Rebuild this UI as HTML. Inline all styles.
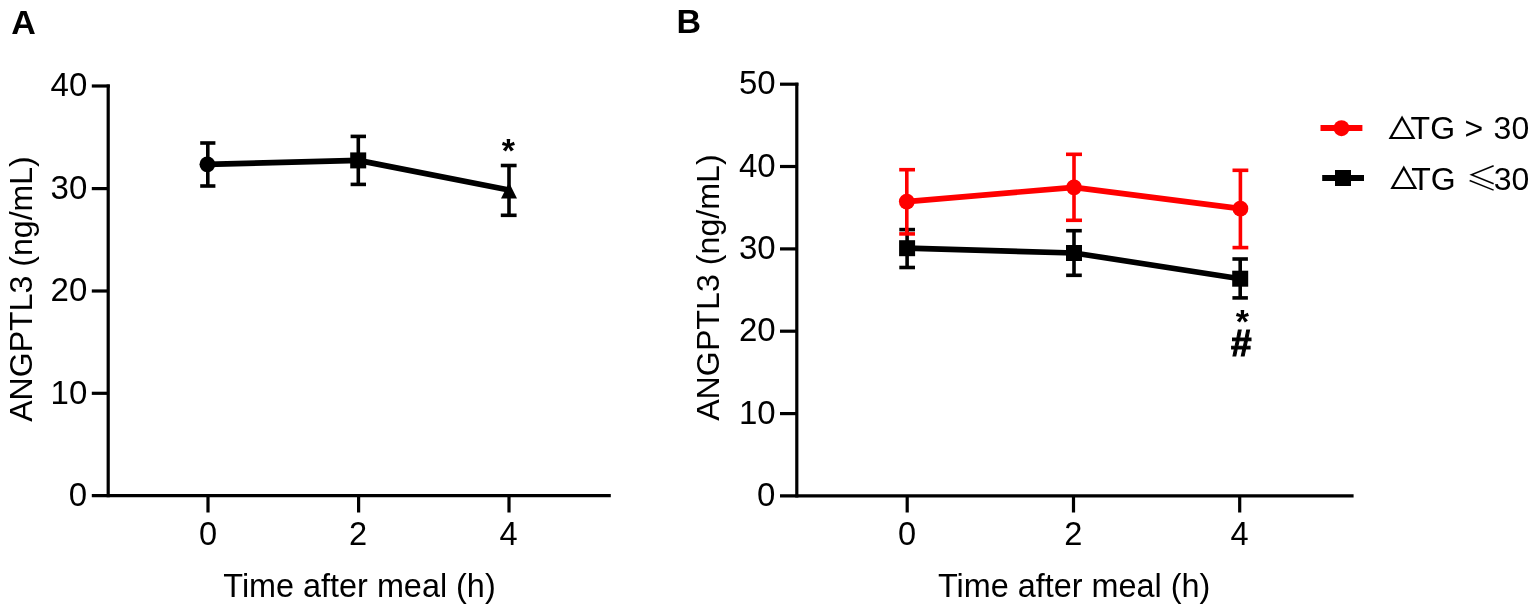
<!DOCTYPE html>
<html>
<head>
<meta charset="utf-8">
<title>ANGPTL3 after meal</title>
<style>
html,body{margin:0;padding:0;background:#fff;}
body{width:1535px;height:609px;overflow:hidden;}
svg{display:block;}
text{font-family:"Liberation Sans","Noto Sans CJK SC",sans-serif;fill:#000;}
</style>
</head>
<body>
<svg width="1535" height="609" viewBox="0 0 1535 609">
<rect x="0" y="0" width="1535" height="609" fill="#fff"/>

<!-- Panel labels -->
<text x="11.2" y="33.6" font-size="34" font-weight="bold">A</text>
<text x="676.6" y="33.4" font-size="34" font-weight="bold">B</text>

<!-- ================= PANEL A ================= -->
<g stroke="#000" stroke-width="3.2" fill="none" stroke-linecap="butt">
  <!-- y axis -->
  <line x1="108.2" y1="84.5" x2="108.2" y2="497.3"/>
  <!-- y ticks -->
  <line x1="91.8" y1="86" x2="109.8" y2="86"/>
  <line x1="91.8" y1="188.6" x2="108.2" y2="188.6"/>
  <line x1="91.8" y1="291" x2="108.2" y2="291"/>
  <line x1="91.8" y1="393.3" x2="108.2" y2="393.3"/>
  <!-- x axis (incl. 0 tick) -->
  <line x1="91.8" y1="495.7" x2="610.8" y2="495.7"/>
  <!-- x ticks -->
  <line x1="208" y1="495.7" x2="208" y2="512.5"/>
  <line x1="358.6" y1="495.7" x2="358.6" y2="512.5"/>
  <line x1="509" y1="495.7" x2="509" y2="512.5"/>
</g>
<g font-size="33" text-anchor="end">
  <text x="87.3" y="96.3">40</text>
  <text x="87.3" y="198.9">30</text>
  <text x="87.3" y="301.2">20</text>
  <text x="87.3" y="403.6">10</text>
  <text x="87.1" y="505.9">0</text>
</g>
<g font-size="32.6" text-anchor="middle">
  <text x="208" y="544.6">0</text>
  <text x="358" y="544.6">2</text>
  <text x="508.5" y="544.6">4</text>
</g>
<text x="359.5" y="597" font-size="32.4" text-anchor="middle">Time after meal (h)</text>
<text transform="translate(31.6,289) rotate(-90)" font-size="32.1" text-anchor="middle">ANGPTL3 (ng/mL)</text>

<!-- data A -->
<g stroke="#000" fill="none">
  <polyline points="207.5,164.3 358.3,160.4 509,190" stroke-width="5.7" stroke-linejoin="round"/>
  <g stroke-width="3.6">
    <line x1="207.8" y1="143" x2="207.8" y2="186"/>
    <line x1="200.2" y1="143" x2="215.4" y2="143"/>
    <line x1="200.2" y1="186" x2="215.4" y2="186"/>
    <line x1="358.3" y1="136.4" x2="358.3" y2="184.4"/>
    <line x1="350.6" y1="136.4" x2="366" y2="136.4"/>
    <line x1="350.6" y1="184.4" x2="366" y2="184.4"/>
    <line x1="509" y1="165.5" x2="509" y2="215.3"/>
    <line x1="500.8" y1="165.5" x2="516.6" y2="165.5"/>
    <line x1="500.8" y1="215.3" x2="516.6" y2="215.3"/>
  </g>
</g>
<circle cx="207.4" cy="164.3" r="7.9" fill="#000"/>
<rect x="350.2" y="152.4" width="16" height="16" fill="#000"/>
<polygon points="509,182.6 517,198.6 501,198.6" fill="#000"/>
<text x="508.3" y="162.2" font-size="34" font-weight="bold" text-anchor="middle">*</text>

<!-- ================= PANEL B ================= -->
<g stroke="#000" stroke-width="3.2" fill="none">
  <line x1="796.8" y1="82.7" x2="796.8" y2="497.4"/>
  <line x1="780" y1="84.2" x2="798.4" y2="84.2"/>
  <line x1="780" y1="166.5" x2="796.8" y2="166.5"/>
  <line x1="780" y1="248.9" x2="796.8" y2="248.9"/>
  <line x1="780" y1="331.2" x2="796.8" y2="331.2"/>
  <line x1="780" y1="413.6" x2="796.8" y2="413.6"/>
  <line x1="780" y1="495.9" x2="1353.6" y2="495.9"/>
  <line x1="907.2" y1="495.9" x2="907.2" y2="512.5"/>
  <line x1="1073.5" y1="495.9" x2="1073.5" y2="512.5"/>
  <line x1="1239.7" y1="495.9" x2="1239.7" y2="512.5"/>
</g>
<g font-size="33" text-anchor="end">
  <text x="775.7" y="94.4">50</text>
  <text x="775.7" y="176.7">40</text>
  <text x="775.7" y="259.1">30</text>
  <text x="775.7" y="341.4">20</text>
  <text x="775.7" y="423.8">10</text>
  <text x="775.3" y="505.9">0</text>
</g>
<g font-size="32.6" text-anchor="middle">
  <text x="907.1" y="544.6">0</text>
  <text x="1073.3" y="544.6">2</text>
  <text x="1239.5" y="544.6">4</text>
</g>
<text x="1074.2" y="597" font-size="32.4" text-anchor="middle">Time after meal (h)</text>
<text transform="translate(719.4,287.6) rotate(-90)" font-size="32.2" text-anchor="middle">ANGPTL3 (ng/mL)</text>

<!-- black series B (drawn first) -->
<g stroke="#000" fill="none">
  <polyline points="907.1,248.2 1074,253 1240.2,278.7" stroke-width="5.7" stroke-linejoin="round"/>
  <g stroke-width="3.6">
    <line x1="907.1" y1="229.6" x2="907.1" y2="267.5"/>
    <line x1="899.3" y1="229.6" x2="915" y2="229.6"/>
    <line x1="899.3" y1="267.5" x2="915" y2="267.5"/>
    <line x1="1074" y1="230.7" x2="1074" y2="275.3"/>
    <line x1="1066.1" y1="230.7" x2="1081.8" y2="230.7"/>
    <line x1="1066.1" y1="275.3" x2="1081.8" y2="275.3"/>
    <line x1="1240.2" y1="259" x2="1240.2" y2="297.9"/>
    <line x1="1232.4" y1="259" x2="1247.9" y2="259"/>
    <line x1="1232.4" y1="297.9" x2="1247.9" y2="297.9"/>
  </g>
</g>
<rect x="899.1" y="240.2" width="16" height="16" fill="#000"/>
<rect x="1066" y="245" width="16" height="16" fill="#000"/>
<rect x="1232.2" y="270.7" width="16" height="16" fill="#000"/>

<!-- red series B -->
<g stroke="#f00" fill="none">
  <polyline points="906.8,201.6 1074,187.3 1240.4,208.7" stroke-width="5.7" stroke-linejoin="round"/>
  <g stroke-width="3.6">
    <line x1="906.8" y1="169.7" x2="906.8" y2="233.9"/>
    <line x1="899.2" y1="169.7" x2="915" y2="169.7"/>
    <line x1="899.2" y1="233.9" x2="915" y2="233.9"/>
    <line x1="1074" y1="154.3" x2="1074" y2="220.3"/>
    <line x1="1066" y1="154.3" x2="1082" y2="154.3"/>
    <line x1="1066" y1="220.3" x2="1082" y2="220.3"/>
    <line x1="1240.4" y1="170.3" x2="1240.4" y2="247.6"/>
    <line x1="1232.5" y1="170.3" x2="1248.3" y2="170.3"/>
    <line x1="1232.5" y1="247.6" x2="1248.3" y2="247.6"/>
  </g>
</g>
<circle cx="906.8" cy="201.6" r="7.9" fill="#f00"/>
<circle cx="1074" cy="187.3" r="7.9" fill="#f00"/>
<circle cx="1240.4" cy="208.7" r="7.9" fill="#f00"/>

<text x="1242.3" y="333.4" font-size="34" font-weight="bold" text-anchor="middle">*</text>
<text x="1241.2" y="356.2" font-size="37" font-weight="bold" text-anchor="middle" stroke="#000" stroke-width="1.1">#</text>

<!-- legend -->
<line x1="1320.5" y1="128.1" x2="1362.4" y2="128.1" stroke="#f00" stroke-width="6"/>
<circle cx="1341.5" cy="128.2" r="8" fill="#f00"/>
<line x1="1322.2" y1="178" x2="1364" y2="178" stroke="#000" stroke-width="6"/>
<rect x="1335" y="170" width="16" height="16" fill="#000"/>
<text transform="translate(1385.3,139.2) scale(1.05,0.95)" style="font-family:IPAGothic,'Noto Sans CJK JP',sans-serif" font-size="32">&#9651;</text>
<text x="1410.6" y="139.3" font-size="32">TG</text>
<text x="1464.6" y="139.3" font-size="32">&gt;</text>
<text x="1493.6" y="139.3" font-size="32">30</text>
<text transform="translate(1387,188.8) scale(1.05,0.95)" style="font-family:IPAGothic,'Noto Sans CJK JP',sans-serif" font-size="32">&#9651;</text>
<text x="1411.2" y="189.7" font-size="32">TG</text>
<text x="1466" y="189.7" font-size="32" style="font-family:'Noto Sans CJK SC',sans-serif;font-weight:300">&#8804;</text>
<text x="1493.8" y="189.7" font-size="32">30</text>
</svg>
</body>
</html>
